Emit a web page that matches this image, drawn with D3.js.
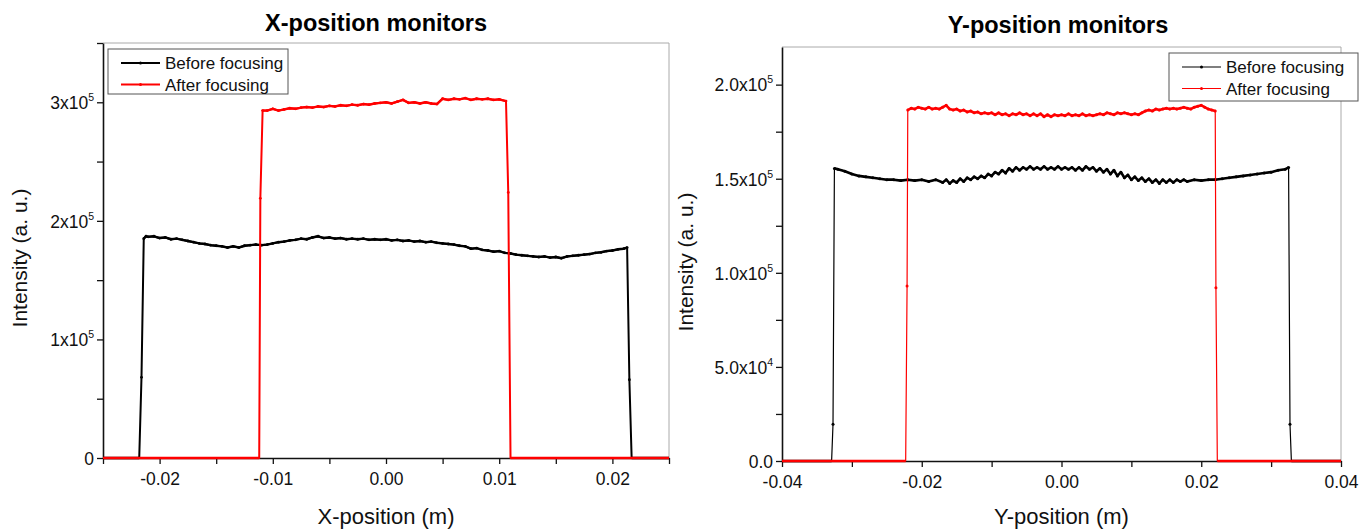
<!DOCTYPE html>
<html lang="en">
<head>
  <meta charset="UTF-8">
  <title>X / Y position monitors</title>
  <style>
    body { margin: 0; background: #fff; }
    svg { display: block; font-family: "Liberation Sans", Arial, sans-serif; }
  </style>
  <script src="https://d3js.org/d3.v7.min.js"></script>
</head>
<body>
  <svg id="chart" width="1363" height="529"></svg>

  <script>
    // ---- data: X-position monitors ----
    const xBeforePos = [-0.025, -0.0218, -0.0216, -0.0214, -0.0212, -0.021, -0.0205, -0.020, -0.0195, -0.019, -0.0185, -0.018,
      -0.0175, -0.017, -0.0165, -0.016, -0.0155, -0.015, -0.0145, -0.014, -0.0135, -0.013, -0.0125, -0.012, -0.0115, -0.011,
      -0.0105, -0.010, -0.0095, -0.009, -0.0085, -0.008, -0.0075, -0.007, -0.0065, -0.006, -0.0055, -0.005, -0.0045, -0.004,
      -0.0035, -0.003, -0.0025, -0.002, -0.0015, -0.001, -0.0005, 0, 0.0005, 0.001, 0.0015, 0.002, 0.0025, 0.003, 0.0035,
      0.004, 0.0045, 0.005, 0.0055, 0.006, 0.0065, 0.007, 0.0075, 0.008, 0.0085, 0.009, 0.0095, 0.010, 0.0105, 0.011, 0.0115,
      0.012, 0.0125, 0.013, 0.0135, 0.014, 0.0145, 0.015, 0.0155, 0.016, 0.0165, 0.017, 0.0175, 0.018, 0.0185, 0.019, 0.0195,
      0.020, 0.0205, 0.021, 0.0213, 0.0215, 0.0217, 0.025];
    const xBeforeVal = [0, 0, 68e3, 185e3, 187e3, 186.5e3, 187e3, 185.5e3, 186e3, 184.5e3, 185e3, 184e3,
      183e3, 182e3, 181e3, 180.5e3, 179.5e3, 179e3, 178.5e3, 177.5e3, 178.5e3, 177.5e3, 179e3, 179.5e3, 180e3, 179.5e3,
      180e3, 181e3, 182e3, 182.5e3, 183.5e3, 184e3, 185e3, 184.5e3, 186e3, 187e3, 185.5e3, 186e3, 185e3, 185.5e3,
      184.5e3, 185e3, 184.5e3, 185e3, 184e3, 184.5e3, 184e3, 184.5e3, 183.5e3, 184e3, 183e3, 183.5e3, 182.5e3, 183e3, 182e3,
      182.5e3, 181.5e3, 181e3, 180.5e3, 180e3, 179e3, 178.5e3, 176.5e3, 177e3, 175.5e3, 175e3, 174e3, 174.5e3, 173e3, 172.5e3, 171.5e3,
      171e3, 170.5e3, 170e3, 169.5e3, 170e3, 169e3, 169.5e3, 168.5e3, 170e3, 170.5e3, 171e3, 171.5e3, 172e3, 173e3, 173.5e3, 174.5e3,
      175e3, 176e3, 176.5e3, 177.5e3, 66e3, 0, 0];

    const xAfterPos = [-0.025, -0.0112, -0.0111, -0.0109, -0.0105, -0.010, -0.0095, -0.009, -0.0085, -0.008, -0.0075, -0.007,
      -0.0065, -0.006, -0.0055, -0.005, -0.0045, -0.004, -0.0035, -0.003, -0.0025, -0.002, -0.0015, -0.001, -0.0005, 0,
      0.0005, 0.001, 0.0015, 0.002, 0.0025, 0.003, 0.0035, 0.004, 0.0045, 0.005, 0.0055, 0.006, 0.0065, 0.007, 0.0075,
      0.008, 0.0085, 0.009, 0.0095, 0.010, 0.0106, 0.0108, 0.0110, 0.025];
    const xAfterVal = [0, 0, 219e3, 293e3, 293e3, 294.5e3, 293e3, 294e3, 295e3, 294.5e3, 295.5e3, 296e3,
      295.5e3, 296.5e3, 296e3, 297e3, 296.5e3, 297.5e3, 297e3, 298e3, 297.5e3, 298.5e3, 298e3, 299e3, 299.5e3, 300e3,
      299e3, 300.5e3, 302e3, 299.5e3, 300e3, 299e3, 300e3, 299e3, 298.5e3, 303e3, 302e3, 303e3, 302.5e3, 303.5e3, 302e3,
      303e3, 302.5e3, 303e3, 302e3, 302.5e3, 301e3, 224e3, 0, 0];

    const xTicks = [-0.02, -0.01, 0, 0.01, 0.02];
    const xIntensityTicks = [0, 1e5, 2e5, 3e5];

    // ---- data: Y-position monitors ----
    const yBeforePos = [-0.04, -0.0329, -0.0327, -0.0325, -0.032, -0.031, -0.030, -0.029, -0.028, -0.027, -0.026, -0.025,
      -0.024, -0.023, -0.022, -0.021, -0.020, -0.019, -0.018, -0.017, -0.0165, -0.016, -0.0155, -0.015, -0.0145, -0.014,
      -0.0135, -0.013, -0.0125, -0.012, -0.0115, -0.011, -0.0105, -0.010, -0.0095, -0.009, -0.0085, -0.008, -0.0075, -0.007,
      -0.0065, -0.006, -0.0055, -0.005, -0.0045, -0.004, -0.0035, -0.003, -0.0025, -0.002, -0.0015, -0.001, -0.0005, 0,
      0.0005, 0.001, 0.0015, 0.002, 0.0025, 0.003, 0.0035, 0.004, 0.0045, 0.005, 0.0055, 0.006, 0.0065, 0.007, 0.0075,
      0.008, 0.0085, 0.009, 0.0095, 0.010, 0.0105, 0.011, 0.0115, 0.012, 0.0125, 0.013, 0.0135, 0.014, 0.0145, 0.015,
      0.0155, 0.016, 0.0165, 0.017, 0.0175, 0.018, 0.019, 0.020, 0.021, 0.022, 0.023, 0.024, 0.025, 0.026, 0.027, 0.028,
      0.029, 0.030, 0.031, 0.032, 0.0325, 0.0327, 0.0329, 0.04];
    const yBeforeVal = [0, 0, 19.5e3, 155.5e3, 155e3, 154e3, 152.5e3, 151.5e3, 151e3, 150.5e3, 150e3, 149.5e3,
      149.5e3, 149e3, 149.5e3, 149e3, 149.5e3, 148.5e3, 149.5e3, 148e3, 149.5e3, 147.5e3, 149e3, 148e3, 150e3, 148.5e3,
      150.5e3, 149.5e3, 151e3, 150e3, 151.5e3, 150.5e3, 152.5e3, 151.5e3, 153.5e3, 152.5e3, 154.5e3, 153e3, 155.5e3, 154e3,
      156e3, 154.5e3, 156e3, 155e3, 156.5e3, 155e3, 156e3, 155e3, 156.5e3, 155e3, 156e3, 155e3, 156.5e3, 155e3,
      156e3, 155e3, 156e3, 154.5e3, 156e3, 154.5e3, 156.5e3, 155e3, 156e3, 154e3, 155.5e3, 153.5e3, 155e3, 152.5e3, 154.5e3,
      151.5e3, 153.5e3, 150.5e3, 152e3, 149.5e3, 151e3, 149e3, 150.5e3, 148.5e3, 150e3, 148e3, 149.5e3, 147.5e3, 149.5e3, 148e3,
      149.5e3, 148e3, 149.5e3, 148.5e3, 149.5e3, 148.5e3, 149.5e3, 149e3, 149.5e3, 149.5e3, 150e3, 150.5e3, 151e3, 151.5e3, 152e3, 152.5e3,
      153e3, 153.5e3, 154.5e3, 155e3, 156e3, 19.5e3, 0, 0];

    const yAfterPos = [-0.04, -0.0223, -0.0221, -0.022, -0.0215, -0.021, -0.0205, -0.020, -0.0195, -0.019, -0.0185, -0.018,
      -0.0175, -0.017, -0.0165, -0.016, -0.0155, -0.015, -0.0145, -0.014, -0.0135, -0.013, -0.0125, -0.012, -0.0115, -0.011,
      -0.0105, -0.010, -0.0095, -0.009, -0.0085, -0.008, -0.0075, -0.007, -0.0065, -0.006, -0.0055, -0.005, -0.0045, -0.004,
      -0.0035, -0.003, -0.0025, -0.002, -0.0015, -0.001, -0.0005, 0, 0.0005, 0.001, 0.0015, 0.002, 0.0025, 0.003, 0.0035,
      0.004, 0.0045, 0.005, 0.0055, 0.006, 0.0065, 0.007, 0.0075, 0.008, 0.0085, 0.009, 0.0095, 0.010, 0.0105, 0.011, 0.0115,
      0.012, 0.0125, 0.013, 0.0135, 0.014, 0.0145, 0.015, 0.0155, 0.016, 0.0165, 0.017, 0.0175, 0.018, 0.0185, 0.019, 0.0195,
      0.020, 0.0205, 0.021, 0.0215, 0.022, 0.0221, 0.0223, 0.04];
    const yAfterVal = [0, 0, 93e3, 186.5e3, 187.5e3, 187e3, 188e3, 187.5e3, 187e3, 188e3, 187e3, 187.5e3,
      187e3, 188e3, 189e3, 187e3, 186.5e3, 187e3, 186e3, 186.5e3, 185.5e3, 186e3, 185e3, 185.5e3, 184.5e3, 185e3,
      184.5e3, 185e3, 184e3, 185e3, 184e3, 184.5e3, 183.5e3, 184.5e3, 184e3, 185e3, 184e3, 184.5e3, 183.5e3, 184.5e3,
      183.5e3, 184.5e3, 183e3, 184e3, 183e3, 184e3, 183.5e3, 184e3, 183.5e3, 184.5e3, 183.5e3, 184e3, 183.5e3, 184.5e3, 183.5e3,
      184e3, 183.5e3, 184e3, 184.5e3, 184e3, 185e3, 184.5e3, 184e3, 185e3, 184.5e3, 185e3, 184.5e3, 184e3, 184.5e3, 184e3, 185e3,
      186e3, 186.5e3, 186e3, 187e3, 186.5e3, 187e3, 187.5e3, 187e3, 187.5e3, 187e3, 187.5e3, 188e3, 187.5e3, 187e3, 188e3, 188.5e3,
      189e3, 188e3, 187e3, 186.5e3, 186e3, 92e3, 0, 0];

    const yTicks = [-0.04, -0.02, 0, 0.02, 0.04];
    const yIntensityTicks = [0, 5e4, 1e5, 1.5e5, 2e5];

    const seriesNames = ['Before focusing', 'After focusing'];
    const seriesColors = ['#000000', '#ff0000'];

    const svg = d3.select('#chart');

    function zip(xs, ys) {
      return xs.map((x, i) => ({ x: x, y: ys[i] }));
    }

    // tick label like 3x10^5 / 2.0x10^5
    function sciLabel(sel, decimals) {
      sel.each(function (v) {
        const t = d3.select(this);
        t.text(null);
        if (v === 0) {
          t.text(decimals ? (0).toFixed(decimals) : '0');
          return;
        }
        const e = Math.floor(Math.log10(v) + 1e-9);
        const m = v / Math.pow(10, e);
        t.append('tspan').text(m.toFixed(decimals) + 'x10');
        t.append('tspan').attr('font-size', '10.5px').attr('dy', '-8').text(e);
      });
    }

    function drawPanel(p) {
      const g = svg.append('g');
      const x = d3.scaleLinear().domain(p.xDomain).range([p.left, p.right]);
      const y = d3.scaleLinear().domain(p.yDomain).range([p.bottom, p.top]);

      // light frame (top + right)
      g.append('path')
        .attr('d', `M${p.left},${p.top}H${p.right}V${p.bottom}`)
        .attr('fill', 'none').attr('stroke', '#aaa').attr('stroke-width', 1);

      // minor ticks
      const xMinor = d3.range(p.xDomain[0], p.xDomain[1] + 1e-9, p.xMinorStep);
      const yMinor = d3.range(0, p.yDomain[1] + 1e-9, p.yMinorStep);

      const xAxis = g.append('g')
        .attr('transform', `translate(0,${p.bottom})`)
        .call(d3.axisBottom(x).tickValues(xMinor).tickSize(6).tickSizeOuter(0)
          .tickFormat(d => {
            const hit = p.xTicks.find(t => Math.abs(t - d) < 1e-9);
            return hit === undefined ? '' : d3.format('.2f')(hit).replace('\u2212', '-');
          }));
      xAxis.selectAll('.tick text').attr('font-size', '17.5px').attr('dy', '1.05em').attr('fill', '#111');

      const yAxis = g.append('g')
        .attr('transform', `translate(${p.left},0)`)
        .call(d3.axisLeft(y).tickValues(yMinor).tickSize(6).tickSizeOuter(0).tickFormat(''));
      yAxis.selectAll('.tick')
        .filter(d => p.yTicks.some(t => Math.abs(t - d) < 1e-6))
        .append('text')
        .attr('x', -9).attr('dy', '0.36em')
        .attr('text-anchor', 'end')
        .attr('fill', '#111')
        .attr('font-size', '17.5px')
        .call(sciLabel, p.decimals);

      [xAxis, yAxis].forEach(a => {
        a.select('.domain').attr('stroke', '#111').attr('stroke-width', 1.6);
        a.selectAll('.tick line').attr('stroke', '#111').attr('stroke-width', 1.3);
      });

      // series
      const line = d3.line().x(d => x(d.x)).y(d => y(d.y));
      p.series.forEach((s, i) => {
        const pts = zip(s.pos, s.val);
        const top = d3.max(pts, d => d.y) * 0.8;
        g.append('path')
          .datum(pts)
          .attr('fill', 'none')
          .attr('stroke', seriesColors[i])
          .attr('stroke-width', p.lineWidth)
          .attr('stroke-linejoin', 'round')
          .attr('d', line);
        // flat top is drawn heavier, as the dense markers make it look
        g.append('path')
          .datum(pts)
          .attr('fill', 'none')
          .attr('stroke', seriesColors[i])
          .attr('stroke-width', p.topWidth)
          .attr('stroke-linejoin', 'round')
          .attr('d', d3.line().defined(d => d.y > top).x(d => x(d.x)).y(d => y(d.y)));
        // zero baseline slightly heavier
        g.append('path')
          .datum(pts)
          .attr('fill', 'none')
          .attr('stroke', seriesColors[i])
          .attr('stroke-width', 2.4)
          .attr('d', d3.line().defined(d => d.y === 0).x(d => x(d.x)).y(d => y(d.y)));
        g.append('g').selectAll('circle')
          .data(pts.filter(d => d.y > 0))
          .join('circle')
          .attr('cx', d => x(d.x))
          .attr('cy', d => y(d.y))
          .attr('r', p.dot)
          .attr('fill', seriesColors[i]);
      });

      // titles
      g.append('text')
        .attr('x', p.titleX).attr('y', p.titleY)
        .attr('text-anchor', 'middle')
        .attr('font-size', '23.5px').attr('font-weight', 'bold')
        .text(p.title);
      g.append('text')
        .attr('x', (p.left + p.right) / 2).attr('y', 524)
        .attr('text-anchor', 'middle').attr('font-size', '22px').attr('fill', '#111')
        .text(p.xLabel);
      g.append('text')
        .attr('transform', `translate(${p.yLabelX},${p.yLabelY}) rotate(-90)`)
        .attr('text-anchor', 'middle').attr('font-size', '21px').attr('fill', '#111')
        .text('Intensity (a. u.)');

      // legend
      const lg = p.legend;
      g.append('rect')
        .attr('x', lg.x).attr('y', lg.y).attr('width', lg.w).attr('height', lg.h)
        .attr('fill', '#fff').attr('stroke', '#555').attr('stroke-width', 1);
      seriesNames.forEach((name, i) => {
        const cy = lg.y + 14 + i * 21.5;
        g.append('line')
          .attr('x1', lg.x + 13).attr('x2', lg.x + 52)
          .attr('y1', cy).attr('y2', cy)
          .attr('stroke', seriesColors[i]).attr('stroke-width', p.lineWidth);
        g.append('circle')
          .attr('cx', lg.x + 32.5).attr('cy', cy).attr('r', 1.5)
          .attr('fill', seriesColors[i]);
        g.append('text')
          .attr('x', lg.x + 57).attr('y', cy + 6)
          .attr('font-size', '17px').attr('fill', '#111')
          .text(name);
      });
    }

    drawPanel({
      title: 'X-position monitors', titleX: 376, titleY: 31,
      xLabel: 'X-position (m)',
      left: 103, right: 669, top: 43, bottom: 458,
      xDomain: [-0.025, 0.025], yDomain: [0, 3.5e5],
      xTicks: xTicks, yTicks: xIntensityTicks,
      xMinorStep: 0.005, yMinorStep: 0.5e5, decimals: 0,
      yLabelX: 27, yLabelY: 258,
      lineWidth: 2, topWidth: 2.4, dot: 1.4,
      legend: { x: 108, y: 49, w: 180, h: 45 },
      series: [{ pos: xBeforePos, val: xBeforeVal }, { pos: xAfterPos, val: xAfterVal }]
    });

    drawPanel({
      title: 'Y-position monitors', titleX: 1058, titleY: 33,
      xLabel: 'Y-position (m)',
      left: 782, right: 1341, top: 47, bottom: 461,
      xDomain: [-0.04, 0.04], yDomain: [0, 2.2e5],
      xTicks: yTicks, yTicks: yIntensityTicks,
      xMinorStep: 0.01, yMinorStep: 0.25e5, decimals: 1,
      yLabelX: 693, yLabelY: 262,
      lineWidth: 1.2, topWidth: 2.6, dot: 1.5,
      legend: { x: 1169, y: 53, w: 189, h: 48 },
      series: [{ pos: yBeforePos, val: yBeforeVal }, { pos: yAfterPos, val: yAfterVal }]
    });
  </script>
</body>
</html>
